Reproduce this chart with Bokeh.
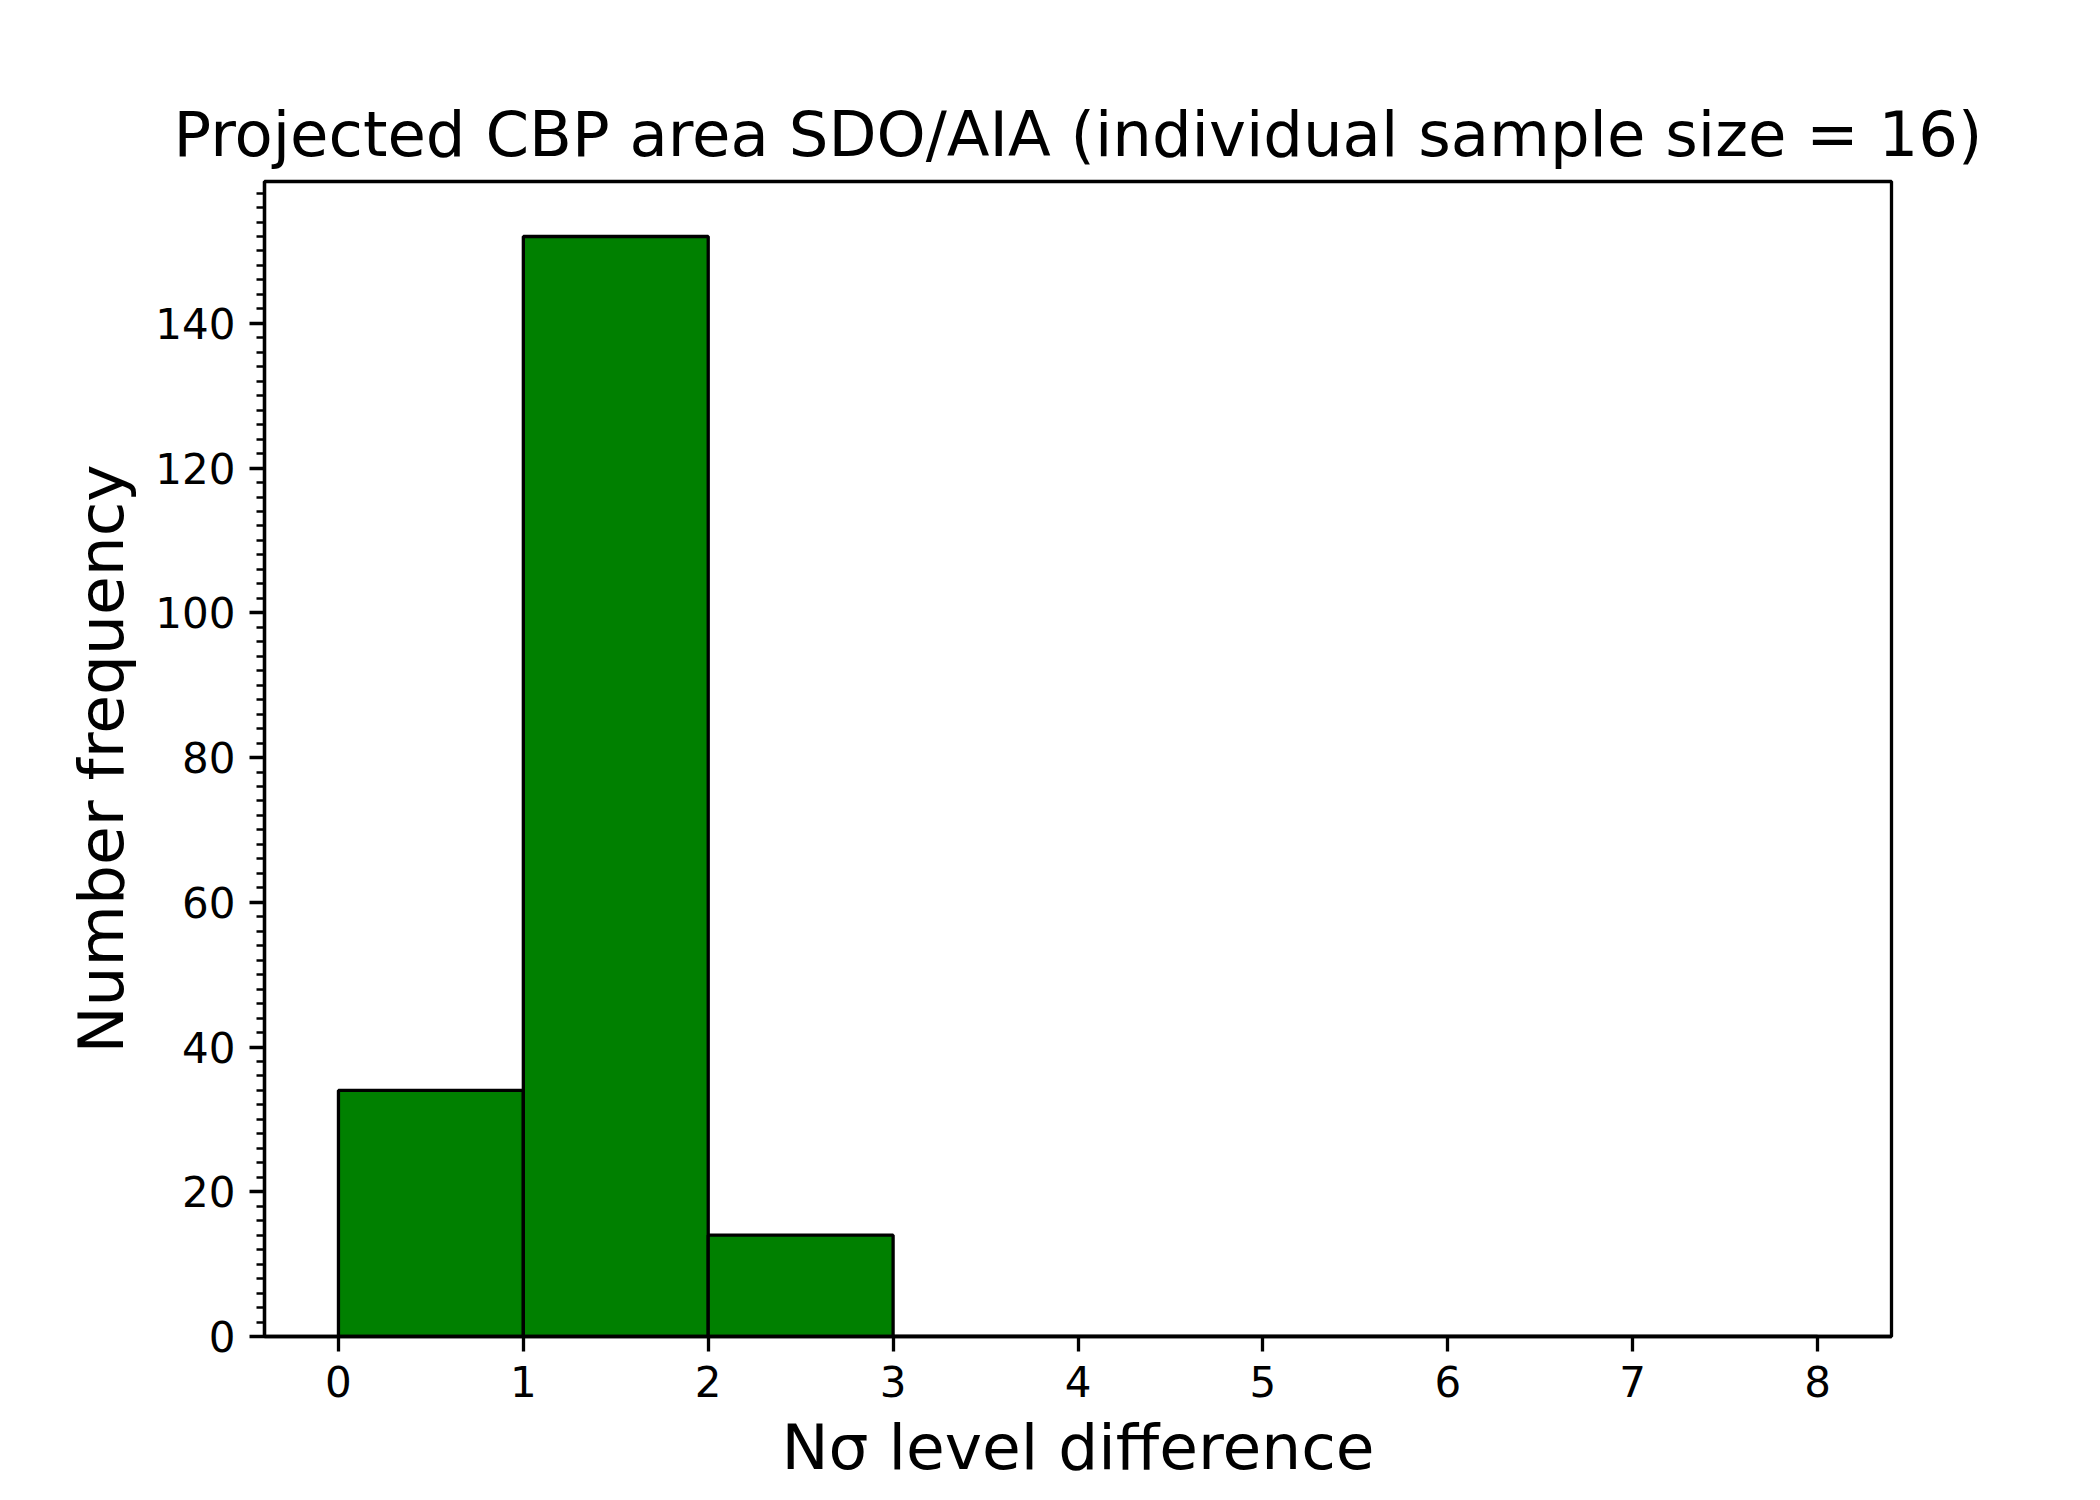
from bokeh.plotting import figure
from bokeh.models import Range1d, SingleIntervalTicker, ColumnDataSource
from bokeh.embed import file_html
from bokeh.resources import INLINE

# Data
bin_edges = [0, 1, 2, 3, 4, 5, 6, 7, 8]
counts = [34, 152, 14, 0, 0, 0, 0, 0]

title_text = "Projected CBP area SDO/AIA (individual sample size = 16)"
x_label = "N\u03c3 level difference"
y_label = "Number frequency"

FONT = "DejaVu Sans"

src = ColumnDataSource(dict(
    left=bin_edges[:-1],
    right=bin_edges[1:],
    top=counts,
    bottom=[0] * len(counts),
))

p = figure(
    frame_width=1627, frame_height=1155,
    min_border_left=264, min_border_right=193,
    min_border_top=181, min_border_bottom=148,
    x_range=Range1d(-0.4, 8.4), y_range=Range1d(0, 159.6),
    output_backend="svg", toolbar_location=None,
    title=title_text,
)

p.quad(left="left", right="right", top="top", bottom="bottom", source=src,
       fill_color="#008000", line_color="black", line_width=3.3)

p.grid.visible = False
p.outline_line_color = "black"
p.outline_line_width = 3.3
p.background_fill_color = "white"
p.border_fill_color = "white"

p.title.text_font = FONT
p.title.text_font_size = "62.5px"
p.title.text_font_style = "normal"
p.title.align = "center"
p.title.standoff = 22
p.title.text_color = "black"

p.xaxis.ticker = SingleIntervalTicker(interval=1, num_minor_ticks=0)
p.yaxis.ticker = SingleIntervalTicker(interval=20, num_minor_ticks=10)

for ax in p.axis:
    ax.axis_line_width = 3.3
    ax.axis_line_color = "black"
    ax.major_tick_out = 15
    ax.major_tick_in = 0
    ax.minor_tick_out = 8
    ax.minor_tick_in = 0
    ax.major_tick_line_width = 3.3
    ax.minor_tick_line_width = 2.5
    ax.major_tick_line_color = "black"
    ax.minor_tick_line_color = "black"
    ax.major_label_text_font = FONT
    ax.major_label_text_font_size = "42px"
    ax.major_label_text_color = "black"
    ax.major_label_standoff = 14
    ax.axis_label_text_font = FONT
    ax.axis_label_text_font_size = "63px"
    ax.axis_label_text_font_style = "normal"
    ax.axis_label_text_color = "black"

p.xaxis.minor_tick_line_color = None
p.xaxis.axis_label = x_label
p.yaxis.axis_label = y_label
p.xaxis.axis_label_standoff = 11
p.yaxis.axis_label_standoff = 14

open("out.html", "w").write(file_html(p, INLINE))
